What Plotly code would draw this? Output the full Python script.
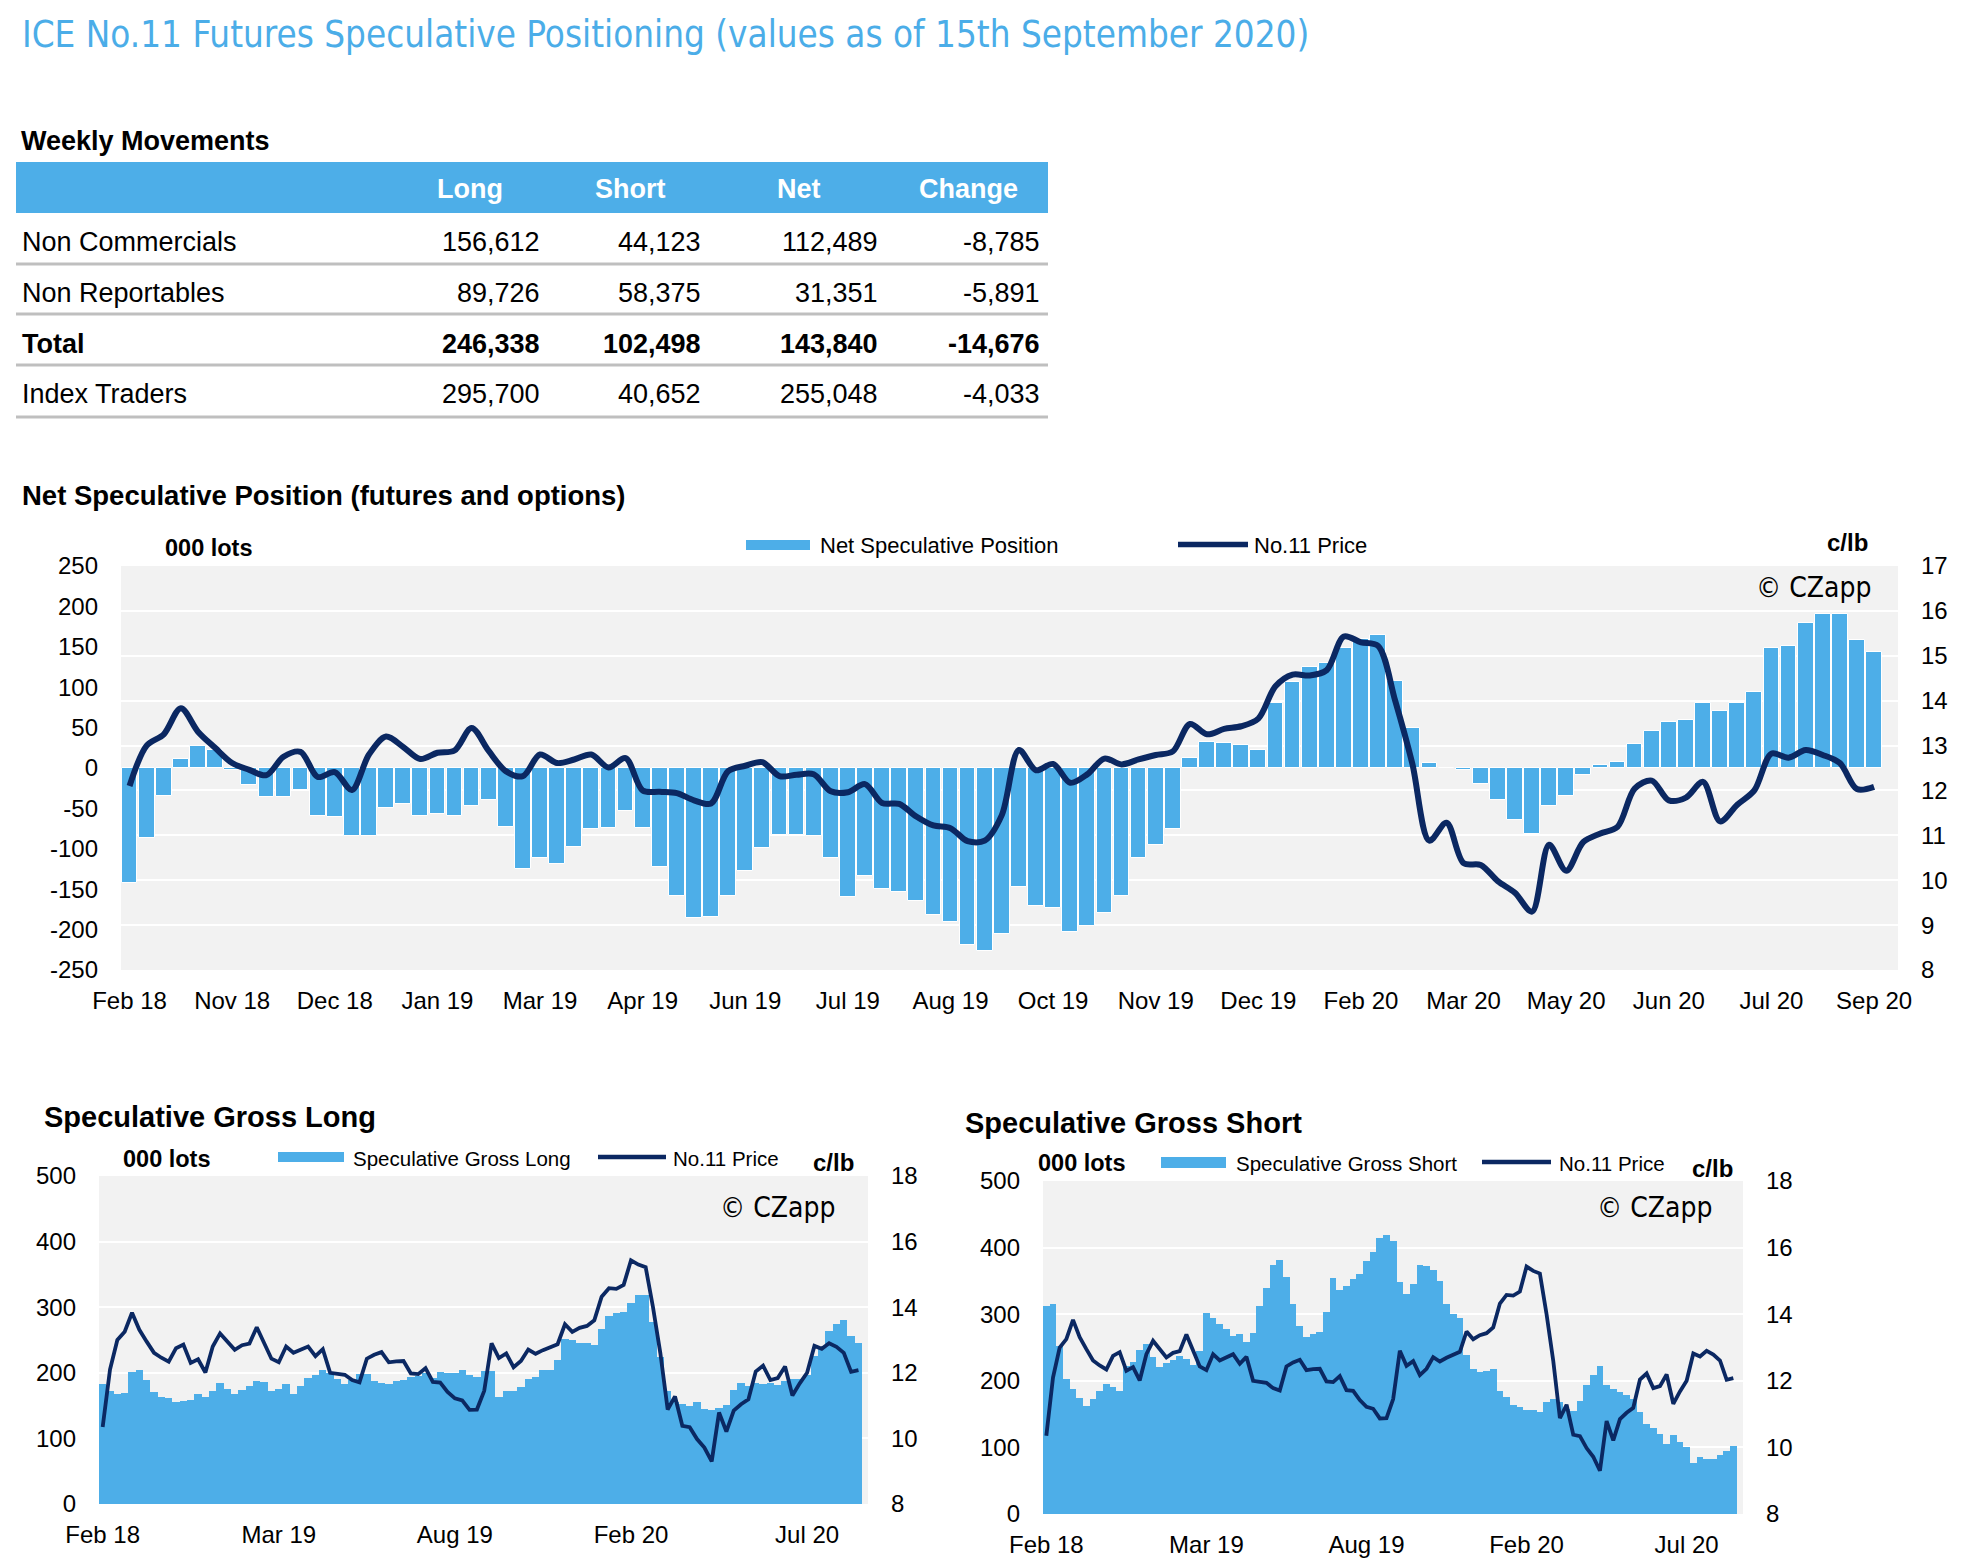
import plotly.graph_objects as go

# page is 1980x1566; the html body has an 8px margin, so the figure is 8px smaller on each axis
PAGE_OFF = 8
W, H = 1980 - PAGE_OFF, 1566 - PAGE_OFF

# ---------------- data ----------------
table_rows = ["Non Commercials", "Non Reportables", "Total", "Index Traders"]
table_cols = ["Long", "Short", "Net", "Change"]
tbl_long = [156612, 89726, 246338, 295700]
tbl_short = [44123, 58375, 102498, 40652]
tbl_net = [112489, 31351, 143840, 255048]
tbl_change = [-8785, -5891, -14676, -4033]

# weekly net speculative position (000 lots), main chart
net = [-142, -87, -35, 11, 27, 22, -2, -21, -36, -36,
       -27, -60, -61, -84, -84, -50, -44, -60, -57, -60,
       -47, -39, -73, -125, -111, -119, -98, -76, -74, -53,
       -74, -122, -158, -186, -184, -159, -127, -99, -83, -83,
       -84, -111, -160, -134, -150, -153, -164, -182, -190, -219,
       -227, -206, -147, -171, -173, -203, -195, -179, -158, -111,
       -95, -75, 12, 32, 31, 29, 22, 80, 107, 125,
       130, 149, 160, 165, 108, 50, 6, 0, -2, -20,
       -40, -64, -82, -47, -35, -9, 4, 7, 30, 46,
       57, 60, 81, 71, 80, 94, 148, 151, 179, 190,
       191, 158, 143]

# No.11 price (c/lb), weekly; the main chart starts at the second week
price = [10.35, 12.10, 13.00, 13.25, 13.83, 13.31, 12.95, 12.61, 12.46, 12.34,
         12.75, 12.86, 12.30, 12.41, 12.01, 12.80, 13.20, 12.97, 12.70, 12.84,
         12.89, 13.39, 12.88, 12.43, 12.32, 12.80, 12.61, 12.69, 12.80, 12.51,
         12.72, 12.00, 11.97, 11.94, 11.78, 11.71, 12.43, 12.55, 12.63, 12.32,
         12.35, 12.36, 11.98, 11.96, 12.14, 11.72, 11.70, 11.42, 11.22, 11.16,
         10.87, 10.88, 11.45, 12.90, 12.45, 12.59, 12.17, 12.36, 12.71, 12.58,
         12.69, 12.79, 12.87, 13.48, 13.25, 13.37, 13.43, 13.60, 14.32, 14.58,
         14.56, 14.68, 15.43, 15.30, 15.22, 14.00, 12.60, 10.88, 11.28, 10.38,
         10.34, 9.98, 9.72, 9.30, 10.79, 10.21, 10.85, 11.04, 11.19, 12.04,
         12.22, 11.78, 11.84, 12.19, 11.31, 11.68, 12.00, 12.82, 12.73, 12.90,
         12.79, 12.61, 12.03, 12.08]

gross_long = [183, 173, 168, 169, 201, 204, 189, 171, 163, 161,
              156, 157, 158, 167, 163, 173, 185, 175, 168, 174,
              180, 187, 186, 173, 176, 183, 167, 180, 192, 196,
              205, 199, 191, 183, 189, 198, 198, 188, 184, 183,
              188, 189, 193, 195, 199, 192, 201, 199, 199, 204,
              197, 194, 203, 202, 163, 173, 172, 179, 190, 193,
              205, 205, 220, 252, 250, 246, 246, 242, 267, 287,
              291, 293, 307, 318, 319, 278, 224, 172, 155, 153,
              150, 156, 145, 143, 147, 151, 174, 184, 180, 185,
              183, 184, 181, 188, 190, 190, 197, 225, 237, 263,
              274, 280, 256, 246]

gross_short = [313, 315, 253, 203, 188, 174, 162, 173, 184, 195,
               191, 184, 222, 228, 247, 256, 235, 220, 226, 231,
               237, 233, 224, 245, 302, 294, 286, 278, 267, 270,
               258, 272, 312, 340, 374, 381, 356, 315, 283, 266,
               270, 273, 304, 354, 336, 342, 353, 361, 380, 393,
               415, 419, 410, 348, 331, 345, 374, 373, 367, 350,
               316, 300, 295, 238, 217, 213, 215, 218, 185, 176,
               164, 161, 156, 156, 153, 168, 172, 168, 158, 155,
               169, 194, 208, 222, 194, 188, 183, 178, 172, 153,
               135, 129, 120, 105, 118, 108, 100, 76, 86, 83,
               83, 88, 95, 102]

main_tick_labels = ["Feb 18", "Nov 18", "Dec 18", "Jan 19", "Mar 19", "Apr 19",
                    "Jun 19", "Jul 19", "Aug 19", "Oct 19", "Nov 19", "Dec 19",
                    "Feb 20", "Mar 20", "May 20", "Jun 20", "Jul 20", "Sep 20"]
bottom_tick_labels = ["Feb 18", "Mar 19", "Aug 19", "Feb 20", "Jul 20"]
net_axis_vals = [250, 200, 150, 100, 50, 0, -50, -100, -150, -200, -250]
net_axis_text = ["250", "200", "150", "100", "50", "0", "-50", "-100", "-150", "-200", "-250"]

# ---------------- style ----------------
BLUE = "#4DAEE8"
NAVY = "#0B2862"
BG = "#F2F2F2"
FONT = "Liberation Sans, Arial, sans-serif"
NARROW = "Liberation Sans Narrow, Arial Narrow, DejaVu Sans Condensed, sans-serif"


def fx(p):
    return (p - PAGE_OFF) / W


def fy(p):
    return 1 - (p - PAGE_OFF) / H


main_x = list(range(len(net)))
main_price = price[1:]
bot_x = list(range(len(gross_long)))

fig = go.Figure()

# main chart
fig.add_trace(go.Bar(x=main_x, y=net, width=0.92, marker=dict(color=BLUE, line=dict(color="white", width=1)),
                     xaxis="x", yaxis="y", showlegend=False, name="Net Speculative Position"))
fig.add_trace(go.Scatter(x=main_x, y=main_price, mode="lines",
                         line=dict(color=NAVY, width=6, shape="spline", smoothing=0.9),
                         xaxis="x", yaxis="y2", showlegend=False, name="No.11 Price"))
# gross long
fig.add_trace(go.Bar(x=bot_x, y=gross_long, width=1.0, marker=dict(color=BLUE, line=dict(width=0)),
                     xaxis="x2", yaxis="y3", showlegend=False, name="Speculative Gross Long"))
fig.add_trace(go.Scatter(x=bot_x, y=price, mode="lines", line=dict(color=NAVY, width=3.8),
                         xaxis="x2", yaxis="y4", showlegend=False, name="No.11 Price"))
# gross short
fig.add_trace(go.Bar(x=bot_x, y=gross_short, width=1.0, marker=dict(color=BLUE, line=dict(width=0)),
                     xaxis="x3", yaxis="y5", showlegend=False, name="Speculative Gross Short"))
fig.add_trace(go.Scatter(x=bot_x, y=price, mode="lines", line=dict(color=NAVY, width=3.8),
                         xaxis="x3", yaxis="y6", showlegend=False, name="No.11 Price"))

tickfont = dict(family=FONT, size=24, color="black")
common_x = dict(showgrid=False, zeroline=False, showline=False, ticks="", tickfont=tickfont,
                ticklabelstandoff=14, automargin=False)
common_y = dict(zeroline=False, showline=False, ticks="", tickfont=tickfont, ticklabelstandoff=22,
                automargin=False)

layout = dict(
    template="none",
    width=W, height=H, margin=dict(l=0, r=0, t=0, b=0, pad=0, autoexpand=False),
    paper_bgcolor="white", plot_bgcolor=BG, showlegend=False, bargap=0,
    xaxis=dict(domain=[fx(121), fx(1898)], anchor="y", range=[-0.5, 103.4],
               tickmode="array", tickvals=main_x[::6], ticktext=main_tick_labels, **common_x),
    yaxis=dict(domain=[fy(970), fy(566)], anchor="x", range=[-250, 250], showgrid=False,
               tickmode="array", tickvals=net_axis_vals, ticktext=net_axis_text, **common_y),
    yaxis2=dict(overlaying="y", side="right", anchor="x", range=[8, 17], dtick=1,
                showgrid=True, gridcolor="white", gridwidth=2, **common_y),
    xaxis2=dict(domain=[fx(99), fx(868)], anchor="y3", range=[-0.5, 104.3],
                tickmode="array", tickvals=bot_x[::24], ticktext=bottom_tick_labels, **common_x),
    yaxis3=dict(domain=[fy(1504), fy(1176)], anchor="x2", range=[0, 500], dtick=100,
                showgrid=True, gridcolor="white", gridwidth=2, **common_y),
    yaxis4=dict(overlaying="y3", side="right", anchor="x2", range=[8, 18], dtick=2,
                showgrid=False, **common_y),
    xaxis3=dict(domain=[fx(1043), fx(1743)], anchor="y5", range=[-0.5, 104.45],
                tickmode="array", tickvals=bot_x[::24], ticktext=bottom_tick_labels, **common_x),
    yaxis5=dict(domain=[fy(1514), fy(1181)], anchor="x3", range=[0, 500], dtick=100,
                showgrid=True, gridcolor="white", gridwidth=2, **common_y),
    yaxis6=dict(overlaying="y5", side="right", anchor="x3", range=[8, 18], dtick=2,
                showgrid=False, **common_y),
)
fig.update_layout(**layout)

ann = []
shapes = []


def text(x, y, s, size, bold=False, color="black", xanchor="left", family=FONT):
    ann.append(dict(x=fx(x), y=fy(y), xref="paper", yref="paper", text=f"<b>{s}</b>" if bold else s,
                    showarrow=False, xanchor=xanchor, yanchor="middle",
                    font=dict(family=family, size=size, color=color), borderpad=0))


# title
text(21, 35, "ICE No.11 Futures Speculative Positioning (values as of 15th September 2020)", 36.5,
     color="#4BADE8", family=NARROW)

# table
text(20, 141, "Weekly Movements", 27, bold=True)
shapes.append(dict(type="rect", xref="paper", yref="paper", x0=fx(16), x1=fx(1048), y0=fy(213), y1=fy(162),
                   fillcolor=BLUE, line=dict(width=0), layer="below"))
header_cx = [470, 630, 799, 968]
for c, cx in zip(table_cols, header_cx):
    text(cx, 189, c, 27, bold=True, color="white", xanchor="center")
col_right = [541, 702, 879, 1041]
row_y = [242.5, 293, 343.5, 394]
sep_y = [264, 314, 365, 417]
for i, r in enumerate(table_rows):
    b = (r == "Total")
    text(21, row_y[i], r, 27, bold=b)
    vals = [tbl_long[i], tbl_short[i], tbl_net[i], tbl_change[i]]
    for v, xr in zip(vals, col_right):
        text(xr, row_y[i], f"{v:,}", 27, bold=b, xanchor="right")
    shapes.append(dict(type="line", xref="paper", yref="paper", x0=fx(16), x1=fx(1048), y0=fy(sep_y[i]),
                       y1=fy(sep_y[i]), line=dict(color="#BFBFBF", width=3)))

# main chart labels
text(21, 495, "Net Speculative Position (futures and options)", 27.5, bold=True)
text(209, 548, "000 lots", 23.5, bold=True, xanchor="center")
text(1869, 543, "c/lb", 24, bold=True, xanchor="right")
text(1872, 587, "© CZapp", 28, family=NARROW, xanchor="right")
shapes.append(dict(type="rect", xref="paper", yref="paper", x0=fx(746), x1=fx(810), y0=fy(550), y1=fy(540),
                   fillcolor=BLUE, line=dict(width=0)))
text(819, 545, "Net Speculative Position", 22)
shapes.append(dict(type="line", xref="paper", yref="paper", x0=fx(1178), x1=fx(1248), y0=fy(544.5),
                   y1=fy(544.5), line=dict(color=NAVY, width=5.5)))
text(1253, 545, "No.11 Price", 22)

# gross long labels
text(43, 1117, "Speculative Gross Long", 29, bold=True)
text(167, 1159, "000 lots", 23.5, bold=True, xanchor="center")
shapes.append(dict(type="rect", xref="paper", yref="paper", x0=fx(278), x1=fx(344), y0=fy(1162), y1=fy(1152),
                   fillcolor=BLUE, line=dict(width=0)))
text(352, 1158, "Speculative Gross Long", 20.5)
shapes.append(dict(type="line", xref="paper", yref="paper", x0=fx(598), x1=fx(666), y0=fy(1157),
                   y1=fy(1157), line=dict(color=NAVY, width=4.5)))
text(672, 1158, "No.11 Price", 20.5)
text(855, 1162, "c/lb", 24, bold=True, xanchor="right")
text(836, 1207, "© CZapp", 28, family=NARROW, xanchor="right")

# gross short labels
text(964, 1123, "Speculative Gross Short", 29, bold=True)
text(1082, 1163, "000 lots", 23.5, bold=True, xanchor="center")
shapes.append(dict(type="rect", xref="paper", yref="paper", x0=fx(1161), x1=fx(1226), y0=fy(1168), y1=fy(1157),
                   fillcolor=BLUE, line=dict(width=0)))
text(1235, 1163, "Speculative Gross Short", 20.5)
shapes.append(dict(type="line", xref="paper", yref="paper", x0=fx(1482), x1=fx(1551), y0=fy(1162),
                   y1=fy(1162), line=dict(color=NAVY, width=4.5)))
text(1558, 1163, "No.11 Price", 20.5)
text(1734, 1168, "c/lb", 24, bold=True, xanchor="right")
text(1713, 1207, "© CZapp", 28, family=NARROW, xanchor="right")

fig.update_layout(annotations=ann, shapes=shapes)
fig.write_html("out.html")
